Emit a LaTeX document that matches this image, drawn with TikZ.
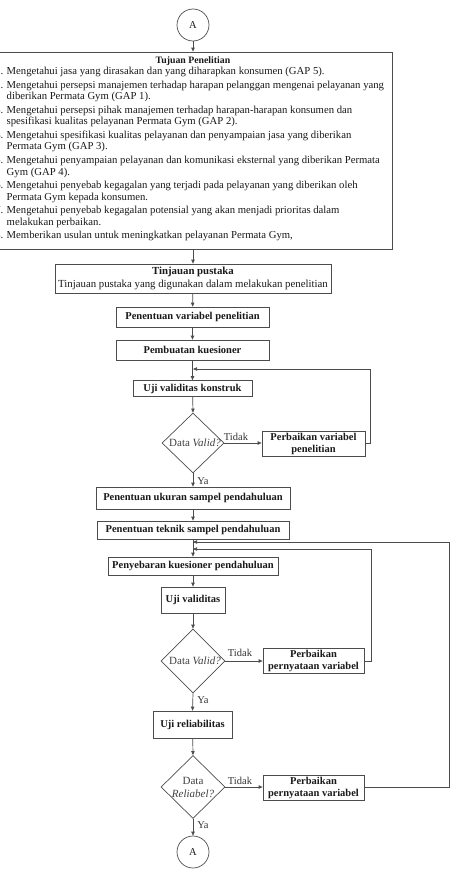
\documentclass[tikz,border=0pt]{standalone}
\usepackage{fontspec}
\setmainfont{Liberation Serif}
\usetikzlibrary{arrows.meta,shapes.geometric,calc}
\begin{document}
\begin{tikzpicture}[x=1pt,y=-1pt,
  line/.style={draw=black!70,line width=0.7pt},
  arr/.style={line,-{Triangle[length=4pt,width=3.4pt]}},
  box/.style={draw=black!70,line width=0.7pt,inner sep=1pt,align=center,
    font=\fontsize{10.5}{12}\selectfont\bfseries,text=black!90},
  dia/.style={diamond,draw=black!70,line width=0.7pt,inner sep=0pt},
  circ/.style={circle,draw=black!70,line width=0.7pt,minimum size=32pt,inner sep=0pt,
    font=\fontsize{10.5}{12}\selectfont,text=black!90},
  lbl/.style={font=\fontsize{10.5}{12}\selectfont,text=black!80,inner sep=1pt},
  dtxt/.style={font=\fontsize{11}{12.5}\selectfont,text=black!75,inner sep=0pt,align=center},
  ]
\useasboundingbox (0,0) rectangle (456,878);

\node[circ] (A1) at (193,25) {A};

\node[draw=black!70,line width=0.7pt,minimum width=398pt,minimum height=197pt,inner sep=0pt] (tuj) at (193,150.5) {};
\node[font=\fontsize{9.8}{12}\selectfont\bfseries,text=black!90,inner sep=0pt] (tujt) at (193,61) {Tujuan Penelitian};
\node[anchor=north west,inner sep=0pt,align=left,text=black!90,
      font=\fontsize{10.7}{11.5}\selectfont] (tujl) at (-4.8,67) {%
\makebox[11.3pt][l]{1.}Mengetahui jasa yang dirasakan dan yang diharapkan konsumen (GAP 5).\\[2.1pt]
\makebox[11.3pt][l]{2.}Mengetahui persepsi manajemen terhadap harapan pelanggan mengenai pelayanan yang\\
\hspace*{11.3pt}diberikan Permata Gym (GAP 1).\\[2.1pt]
\makebox[11.3pt][l]{3.}Mengetahui persepsi pihak manajemen terhadap harapan-harapan konsumen dan\\
\hspace*{11.3pt}spesifikasi kualitas pelayanan Permata Gym (GAP 2).\\[2.1pt]
\makebox[11.3pt][l]{4.}Mengetahui spesifikasi kualitas pelayanan dan penyampaian jasa yang diberikan\\
\hspace*{11.3pt}Permata Gym (GAP 3).\\[2.1pt]
\makebox[11.3pt][l]{5.}Mengetahui penyampaian pelayanan dan komunikasi eksternal yang diberikan Permata\\
\hspace*{11.3pt}Gym (GAP 4).\\[2.1pt]
\makebox[11.3pt][l]{6.}Mengetahui penyebab kegagalan yang terjadi pada pelayanan yang diberikan oleh\\
\hspace*{11.3pt}Permata Gym kepada konsumen.\\[2.1pt]
\makebox[11.3pt][l]{7.}Mengetahui penyebab kegagalan potensial yang akan menjadi prioritas dalam\\
\hspace*{11.3pt}melakukan perbaikan.\\[2.1pt]
\makebox[11.3pt][l]{8.}Memberikan usulan untuk meningkatkan pelayanan Permata Gym,};

\node[box,minimum width=276pt,minimum height=29pt,font=\fontsize{10.8}{13}\selectfont] (tin) at (193,278.5)
  {\textbf{Tinjauan pustaka}\\Tinjauan pustaka yang digunakan dalam melakukan penelitian};
\node[box,minimum width=153pt,minimum height=20pt] (pv) at (192.5,317) {Penentuan variabel penelitian};
\node[box,minimum width=153pt,minimum height=20pt] (pk) at (192.5,350) {Pembuatan kuesioner};
\node[box,minimum width=119pt,minimum height=16pt] (uvk) at (192.5,388.5) {Uji validitas konstruk};
\node[dia,minimum width=62pt,minimum height=60pt] (d1) at (193,443) {};
\node[dtxt] (d1t) at (195,443) {Data \textit{Valid?}};
\node[box,minimum width=103pt,minimum height=25pt] (pvp) at (313.5,443.5) {Perbaikan variabel\\penelitian};
\node[box,minimum width=194pt,minimum height=22pt] (pu) at (193,498) {Penentuan ukuran sampel pendahuluan};
\node[box,minimum width=192pt,minimum height=18pt] (pt) at (193,530) {Penentuan teknik sampel pendahuluan};
\node[box,minimum width=170pt,minimum height=18pt] (ps) at (193,566) {Penyebaran kuesioner pendahuluan};
\node[box,minimum width=64pt,minimum height=26pt] (uv) at (193,600) {Uji validitas};
\node[dia,minimum width=64pt,minimum height=64pt] (d2) at (193,661) {};
\node[dtxt] (d2t) at (195,661) {Data \textit{Valid?}};
\node[box,minimum width=101pt,minimum height=25pt] (pp1) at (313.5,660.5) {Perbaikan\\pernyataan variabel};
\node[box,minimum width=79pt,minimum height=27pt] (ur) at (192.5,724.5) {Uji reliabilitas};
\node[dia,minimum width=64pt,minimum height=63pt] (d3) at (193,787) {};
\node[dtxt] (d3t) at (193,787.5) {Data\\\textit{Reliabel?}};
\node[box,minimum width=101pt,minimum height=25pt] (pp2) at (313.5,787.5) {Perbaikan\\pernyataan variabel};
\node[circ] (A2) at (193,852) {A};

% labels
\node[lbl] (t1) at (236,437) {Tidak};
\node[lbl] (t2) at (240,653) {Tidak};
\node[lbl] (t3) at (240,781) {Tidak};
\node[lbl] (y1) at (203,481) {Ya};
\node[lbl] (y2) at (203,700) {Ya};
\node[lbl] (y3) at (203,825) {Ya};

% junction coordinates
\coordinate (j1) at (193,369);
\coordinate (c1a) at (370,443);
\coordinate (c1b) at (370,369);
\coordinate (j2) at (193,549);
\coordinate (c2a) at (371,661);
\coordinate (c2b) at (371,549);
\coordinate (j3) at (193,542);
\coordinate (c3a) at (449,787);
\coordinate (c3b) at (449,542);

% main flow
\draw[arr] (A1) -- (A1 |- tuj.north);
\draw[arr] (tuj.south -| tin) -- (tin.north);
\draw[arr] (tin) -- (pv);
\draw[arr] (pv) -- (pk);
\draw[arr] (pk) -- (uvk);
\draw[arr] (uvk) -- (d1.north);
\draw[arr] (d1.east) -- (d1.east -| pvp.west);
\draw[arr] (d1.south) -- (pu.north);
\draw[arr] (pu) -- (pt);
\draw[arr] (pt) -- (ps);
\draw[arr] (ps) -- (uv);
\draw[arr] (uv) -- (d2.north);
\draw[arr] (d2.east) -- (d2.east -| pp1.west);
\draw[arr] (d2.south) -- (ur.north);
\draw[arr] (ur) -- (d3.north);
\draw[arr] (d3.east) -- (d3.east -| pp2.west);
\draw[arr] (d3.south) -- (A2.north);

% feedback loops
\draw[arr] (pvp.east |- c1a) -- (c1a) -- (c1b) -- (j1);
\draw[arr] (pp1.east |- c2a) -- (c2a) -- (c2b) -- (j2);
\draw[arr] (pp2.east |- c3a) -- (c3a) -- (c3b) -- (j3);
\end{tikzpicture}
\end{document}
